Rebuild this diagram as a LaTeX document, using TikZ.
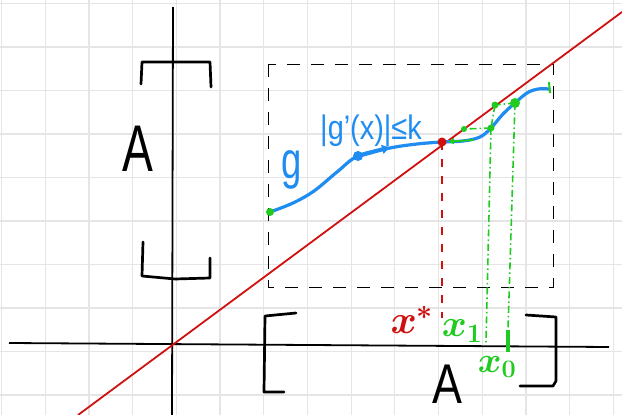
\RequirePackage{fix-cm}
\documentclass[tikz,border=0pt]{standalone}
\usepackage{fontspec}
\setmainfont{Liberation Sans}
\usepackage{tikz}
\usetikzlibrary{arrows.meta}
\definecolor{penblue}{HTML}{1E8CF0}
\definecolor{pengreen}{HTML}{1FCB1F}
\definecolor{penred}{HTML}{D0100F}
\newcommand{\handnarrow}[2][0.75]{\scalebox{#1}[1]{#2}}
\tikzset{%
  gridline/.style={draw=black!10, line width=1.2pt},
  axis/.style={draw=black, line width=1.8pt},
  bracket/.style={draw=black, line width=2.7pt, line cap=round, line join=round},
  frame/.style={draw=black, line width=0.9pt, dash pattern=on 13pt off 11pt},
  dot/.style={circle, fill, inner sep=0pt, minimum size=#1},
  dot/.default=7pt,
  arrow/.style={-{Latex[length=2mm]}, thick}%
}

\begin{document}
\begin{tikzpicture}[
    x=1pt, y=-1pt,
    hand/.style={font=\fontsize{#1}{#1}\selectfont, inner sep=0pt},
    mathlabel/.style={font=\fontsize{#1}{#1}\selectfont\boldmath, inner sep=0pt},
    gpath/.style={draw=penblue, line width=3.2pt, line cap=round},
    diag/.style={draw=penred, line width=1.8pt},
    cobweb/.style={draw=pengreen, line width=1.6pt, dash pattern=on 7pt off 3pt on 1.5pt off 3pt},
    dropline/.style={draw=penred, line width=1.2pt, dash pattern=on 8pt off 9pt}
]
\useasboundingbox (0,0) rectangle (622,415);

% Grid
\foreach \i in {0,...,14}
  \draw[gridline] ({1.5+43.7*\i},0) -- ({1.5+43.7*\i},415);
\foreach \j in {0,...,9}
  \draw[gridline] (0,{3.5+43.5*\j}) -- (622,{3.5+43.5*\j});

% Axes
\draw[axis] (9,343) -- (609,347);
\draw[axis] (173,7) -- (172,415);

% Brackets
\draw[bracket] (141,84) -- (142,62) -- (210,62) -- (211,87);
\draw[bracket] (143,242) -- (142,276) -- (175,279) -- (210,278) -- (210,258);
\draw[bracket] (296,313) -- (265,316) -- (264,392) -- (284,392);
\draw[bracket] (526,315) -- (556,317) -- (556,381) -- (553,386) -- (520,386);

% Dashed square A x A
\draw[frame] (268,64) rectangle (553,287);

% Diagonal
\coordinate (diaglo) at (78,415);
\coordinate (diaghi) at (622,12);
\draw[diag] (diaglo) -- (diaghi);

% Points
\coordinate (gstart) at (270,212);
\coordinate (gdot) at (358,156);
\coordinate (gtip) at (391,147);
\coordinate (fix) at (442,142);
\coordinate (gone) at (491,128);
\coordinate (gzero) at (515,103);
\coordinate (gend) at (549,89);
\coordinate (done) at (464,129);
\coordinate (dzero) at (495,105);
\coordinate (nextstep) at (474,140);
\coordinate (fixfoot) at (442,318);
\coordinate (onefoot) at (486,343);
\coordinate (zerofoot) at (508,330);
\coordinate (zerobar) at (508,352);

% Curve g
\draw[gpath] plot[smooth, tension=0.6] coordinates {
  (gstart) (293,203) (314,191) (337,172) (gdot) (390,148) (417,144)
  (fix) (463,141) (480,137) (gone) (503,114) (gzero) (527,93) (538,89) (gend)};
\draw[draw=penblue, line width=4pt, -{Latex[length=9pt, width=10pt]}] (gdot) -- (gtip);

% Iteration
\draw[dropline] (fix) -- (fixfoot);
\draw[cobweb] (gzero) -- (zerofoot);
\draw[cobweb] (gzero) -- (dzero);
\draw[cobweb] (dzero) -- (gone);
\draw[cobweb] (gone) -- (done);
\draw[cobweb] (gone) -- (onefoot);
\draw[draw=pengreen, line width=1.8pt, -{Latex[length=6pt, width=7pt]}, shorten >=6pt] (nextstep) -- (fix);
\draw[draw=pengreen, line width=4.5pt] (zerofoot) -- (zerobar);
\draw[draw=pengreen, line width=2pt] (549,82) -- (550,93);

% Dots
\node[dot=8pt, fill=pengreen] (startdot) at (gstart) {};
\node[dot=10pt, fill=penblue] (gdotn) at (gdot) {};
\node[dot=6pt, fill=pengreen] (donedot) at (done) {};
\node[dot=7pt, fill=pengreen] (gonedot) at (gone) {};
\node[dot=7pt, fill=pengreen] (dzerodot) at (dzero) {};
\node[dot=10pt, fill=pengreen] (gzerodot) at (gzero) {};
\node[dot=9pt, fill=penred] (fixdot) at (fix) {};

% Labels
\node[hand=66] (Ay) at (138,149) {\handnarrow[0.7]{A}};
\node[hand=56] (Ax) at (447,384) {\handnarrow[0.8]{A}};
\node[hand=52, text=penblue] (glabel) at (292,170) {\handnarrow[0.7]{g}};
\node[hand=34, text=penblue] (lipschitz) at (371,131) {\handnarrow[0.85]{|g'(x)|≤k}};
\node[mathlabel=40, text=penred] (xstar) at (412,320) {$x^{*}$};
\node[mathlabel=38, text=pengreen] (xone) at (462,331) {$x_1$};
\node[mathlabel=36, text=pengreen] (xzero) at (497,367) {$x_0$};

\end{tikzpicture}
\end{document}
